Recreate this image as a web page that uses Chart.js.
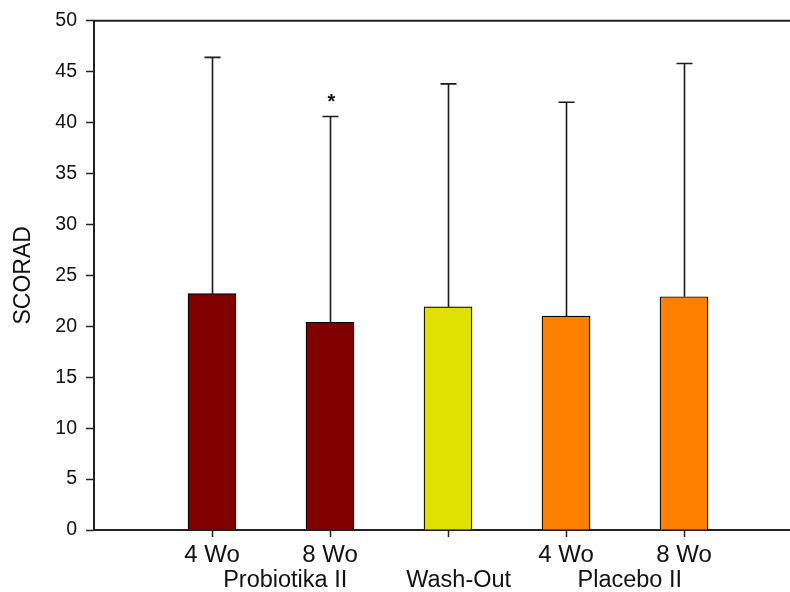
<!DOCTYPE html>
<html>
<head>
<meta charset="utf-8">
<script src="https://cdn.jsdelivr.net/npm/chart.js@4.4.1/dist/chart.umd.min.js"></script>
<style>
    body { margin: 0; background: #fff; }
    #wrap { width: 790px; height: 592px; }
</style>
</head>
<body>
<div id="wrap"><canvas id="scoradChart" width="790" height="592"></canvas></div>
<script>
// values
const positions = [1, 2, 3, 4, 5];
const tickLabels = ['4 Wo', '8 Wo', '', '4 Wo', '8 Wo'];
const means = [23.2, 20.4, 21.9, 21.0, 22.9];
const sds = [23.2, 20.2, 21.9, 21.0, 22.9];
const marks = ['', '*', '', '', ''];
const barColors = ['#800000', '#800000', '#e1e100', '#ff8000', '#ff8000'];
const groupNames = ['Probiotika II', 'Wash-Out', 'Placebo II'];
const groupAnchors = [1.62, 3.09, 4.54];

const fontFamily = "'Liberation Sans', Arial, sans-serif";
const ink = '#111';

// upward-only error bars with a cap, plus the significance mark
const errorBars = {
    id: 'errorBars',
    afterDatasetsDraw(chart) {
        const ctx = chart.ctx;
        const meta = chart.getDatasetMeta(0);
        const yScale = chart.scales.y;
        ctx.save();
        ctx.strokeStyle = '#1a1a1a';
        ctx.lineWidth = 1.6;
        meta.data.forEach((bar, i) => {
            const x = Math.round(bar.x) + 0.5;
            const yTop = yScale.getPixelForValue(means[i] + sds[i]);
            const yBase = yScale.getPixelForValue(means[i]);
            ctx.beginPath();
            ctx.moveTo(x, yBase);
            ctx.lineTo(x, yTop);
            ctx.moveTo(x - 8, yTop);
            ctx.lineTo(x + 8, yTop);
            ctx.stroke();
            if (marks[i]) {
                ctx.fillStyle = ink;
                ctx.font = 'bold 20px ' + fontFamily;
                ctx.textAlign = 'center';
                ctx.textBaseline = 'alphabetic';
                ctx.fillText(marks[i], x + 1, yTop - 8);
            }
        });
        ctx.restore();
    }
};

// top frame line and the group captions under the tick labels
const frameAndGroups = {
    id: 'frameAndGroups',
    afterDraw(chart) {
        const ctx = chart.ctx;
        const area = chart.chartArea;
        const xScale = chart.scales.x;
        ctx.save();
        ctx.strokeStyle = '#222';
        ctx.lineWidth = 2;
        ctx.beginPath();
        ctx.moveTo(area.left - 1, area.top);
        ctx.lineTo(area.right, area.top);
        ctx.stroke();

        ctx.fillStyle = ink;
        ctx.font = '23.5px ' + fontFamily;
        ctx.textAlign = 'center';
        ctx.textBaseline = 'middle';
        groupNames.forEach((name, i) => {
            ctx.fillText(name, xScale.getPixelForValue(groupAnchors[i]), area.bottom + 51);
        });
        ctx.restore();
    }
};

const ctx = document.getElementById('scoradChart').getContext('2d');

new Chart(ctx, {
    type: 'bar',
    data: {
        datasets: [{
            data: positions.map((p, i) => ({x: p, y: means[i]})),
            backgroundColor: barColors,
            borderColor: '#000',
            borderWidth: 1.2,
            barThickness: 48
        }]
    },
    options: {
        responsive: false,
        animation: false,
        layout: {
            padding: {left: 0, right: 0, top: 20, bottom: 0}
        },
        plugins: {
            legend: {display: false},
            tooltip: {enabled: false}
        },
        scales: {
            x: {
                type: 'linear',
                min: 0,
                max: 5.898,
                offset: false,
                afterBuildTicks: (scale) => {
                    scale.ticks = positions.map(v => ({value: v}));
                },
                afterFit: (scale) => { scale.height = 62; },
                grid: {
                    display: true,
                    offset: false,
                    drawOnChartArea: false,
                    drawTicks: true,
                    tickLength: 7,
                    tickWidth: 1.5,
                    tickColor: '#222'
                },
                border: {display: true, width: 2, color: '#222'},
                ticks: {
                    autoSkip: false,
                    maxRotation: 0,
                    padding: 4,
                    color: ink,
                    font: {family: fontFamily, size: 24},
                    callback: (value, index) => tickLabels[index]
                }
            },
            y: {
                min: 0,
                max: 50,
                afterFit: (scale) => { scale.width = 94; },
                grid: {
                    display: true,
                    drawOnChartArea: false,
                    drawTicks: true,
                    tickLength: 8,
                    tickWidth: 1.5,
                    tickColor: '#222'
                },
                border: {display: true, width: 2, color: '#222'},
                ticks: {
                    stepSize: 5,
                    padding: 9,
                    color: ink,
                    font: {family: fontFamily, size: 19.5}
                },
                title: {
                    display: true,
                    text: 'SCORAD',
                    color: ink,
                    font: {family: fontFamily, size: 23, lineHeight: 1},
                    padding: {top: 12, bottom: 0}
                }
            }
        }
    },
    plugins: [errorBars, frameAndGroups]
});
</script>
</body>
</html>
